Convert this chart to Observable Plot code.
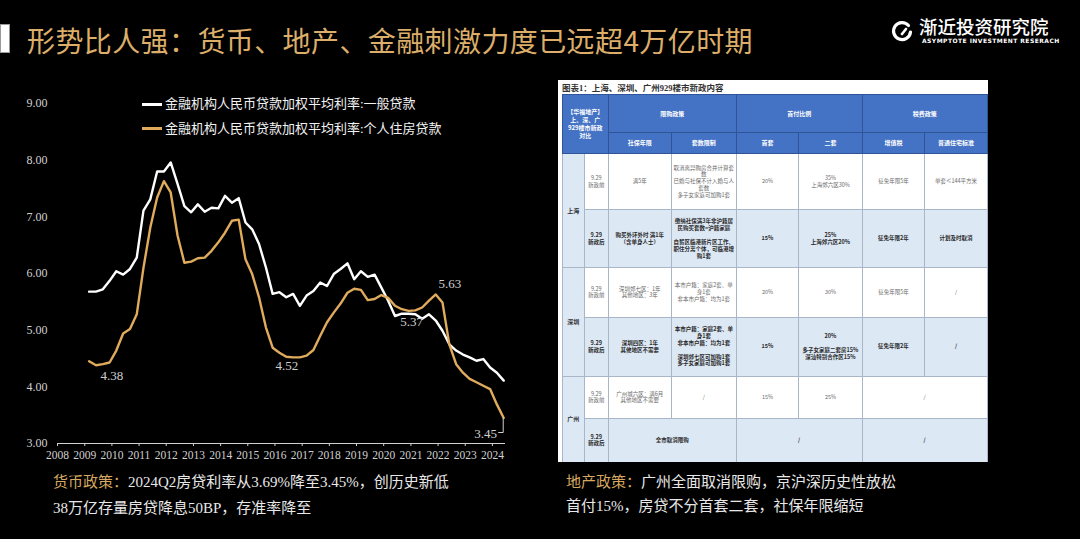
<!DOCTYPE html>
<html><head><meta charset="utf-8">
<script src="https://cdn.jsdelivr.net/npm/d3@7"></script>
<script src="https://cdn.jsdelivr.net/npm/@observablehq/plot@0.6"></script>
<style>
html,body{margin:0;padding:0;background:#000;}
#page{position:relative;width:1080px;height:539px;background:#000;overflow:hidden;font-family:"Noto Sans CJK SC",sans-serif;}
.titlebar{position:absolute;left:0;top:24px;width:10px;height:29px;background:#fff;border:1px solid #999;box-sizing:border-box}
.title{position:absolute;left:27px;top:22px;font-size:28px;line-height:36px;color:#dcae6a;letter-spacing:0.4px;white-space:nowrap}
.logo{position:absolute;left:889px;top:17px;}
.logoname{position:absolute;left:919px;top:17px;font-size:18.5px;line-height:19px;height:19px;color:#fff;font-weight:500;white-space:nowrap;letter-spacing:0px}
.logosub{position:absolute;left:922px;top:38px;font-size:6px;line-height:6px;height:6px;color:#fff;font-weight:700;white-space:nowrap;letter-spacing:0.45px;font-family:"DejaVu Sans",sans-serif}
#chart{position:absolute;left:0;top:80px;}
.legend{position:absolute;left:142px;font-size:13px;line-height:16px;color:#f2f2f2;white-space:nowrap;font-family:"Liberation Serif","Noto Sans CJK SC",serif}
.legend span.sw{display:inline-block;width:20px;height:3px;vertical-align:middle;margin-right:3px;position:relative;top:-1px}
.note{position:absolute;font-size:15px;color:#e8e8e8;white-space:nowrap;font-family:"Liberation Serif","Noto Sans CJK SC",serif}
.note b{color:#d6a860;font-weight:normal}
#tbl{position:absolute;left:558px;top:80px;width:430px;height:382px;background:#fff;overflow:hidden}
#tbl .tt{position:absolute;left:4px;top:2px;font-size:8.5px;line-height:12px;color:#333;font-weight:700;font-family:"Liberation Serif","Noto Sans CJK SC",serif;white-space:nowrap}
#tbl table{position:absolute;left:3.7px;top:14.3px;width:425px;border-collapse:collapse;table-layout:fixed;}
#tbl th{background:#4472c4;color:#fff;font-size:6px;line-height:1.35;font-weight:700;border:1px solid #2f5597;padding:0;text-align:center;vertical-align:middle}
#tbl td{font-size:5.5px;line-height:1.25;color:#6a6a6a;border:1px solid #a9b6c8;padding:0 1px;text-align:center;vertical-align:middle;background:#fff}
#tbl td.city{background:#dde8f5;color:#333;font-weight:700;font-size:6px}
#tbl tr.post td{background:#dde8f5;color:#2a2a2a;font-weight:700}
</style>
</head><body>
<div id="page">
  <div class="titlebar"></div>
  <div class="title">形势比人强：货币、地产、金融刺激力度已远超4万亿时期</div>
  <svg class="logo" width="26" height="28" viewBox="0 0 26 28">
    <path d="M19.5,8.5 A8.5,8.5 0 1 0 21.5,15" fill="none" stroke="#fff" stroke-width="3.2" stroke-linecap="round"/>
    <path d="M13,17 L17,12" fill="none" stroke="#fff" stroke-width="2.6" stroke-linecap="round"/>
  </svg>
  <div class="logoname">渐近投资研究院</div>
  <div class="logosub">ASYMPTOTE INVESTMENT RESERACH</div>

  <div id="chart"></div>
  <div class="legend" style="top:96px"><span class="sw" style="background:#ffffff"></span>金融机构人民币贷款加权平均利率:一般贷款</div>
  <div class="legend" style="top:120.5px"><span class="sw" style="background:#e0ab5c"></span>金融机构人民币贷款加权平均利率:个人住房贷款</div>

  <div class="note" style="left:53px;top:470px;line-height:25.5px"><b>货币政策：</b>2024Q2房贷利率从3.69%降至3.45%，创历史新低<br>38万亿存量房贷降息50BP，存准率降至</div>
  <div class="note" style="left:566px;top:469.5px;line-height:24.7px"><b>地产政策：</b>广州全面取消限购，京沪深历史性放松<br>首付15%，房贷不分首套二套，社保年限缩短</div>

  <div id="tbl">
    <div class="tt">图表1：上海、深圳、广州929楼市新政内容</div>
    <table>
      <colgroup><col style="width:22.3px"><col style="width:23.7px"><col style="width:63.3px"><col style="width:64.7px"><col style="width:62.6px"><col style="width:63.4px"><col style="width:62.6px"><col style="width:62.4px"></colgroup>
      <tr style="height:38px"><th colspan="2" rowspan="2">【华福地产】<br>上、深、广<br>929楼市新政<br>对比</th><th colspan="2">限购政策</th><th colspan="2">首付比例</th><th colspan="2">税费政策</th></tr>
      <tr style="height:21px"><th>社保年限</th><th>套数限制</th><th>首套</th><th>二套</th><th>增值税</th><th>普通住宅标准</th></tr>
      <tr style="height:56px"><td rowspan="2" class="city">上海</td><td>9.29<br>新政前</td><td>满5年</td><td>取消离异购房合并计算套<br>数<br>已婚与社保不计入婚与人<br>套数<br>多子女家庭可加购1套</td><td>20%</td><td>35%<br>上海郊六区30%</td><td>征免年限5年</td><td>单套≤144平方米</td></tr>
      <tr class="post" style="height:58px"><td>9.29<br>新政后</td><td>购买外环外时 满1年<br>（含单身人士）</td><td>缴纳社保满3年非沪籍居<br>民购买套数=沪籍家庭<br><br>自贸区临港新片区工作、<br>职住分离个体，可临港增<br>购1套</td><td>15%</td><td>25%<br>上海郊六区20%</td><td>征免年限2年</td><td>计划及时取消</td></tr>
      <tr style="height:49.4px"><td rowspan="2" class="city">深圳</td><td>9.29<br>新政前</td><td>深圳郊七区：1年<br>其他地区：3年</td><td>本市户籍：家庭2套、单<br>身1套<br>非本市户籍：均为1套</td><td>20%</td><td>30%</td><td>征免年限5年</td><td>/</td></tr>
      <tr class="post" style="height:59px"><td>9.29<br>新政后</td><td>深圳四区：1年<br>其他地区不需要</td><td>本市户籍：家庭2套、单<br>身1套<br>非本市户籍：均为1套<br><br>深圳郊七区可加购1套<br>多子女家庭可加购1套</td><td>15%</td><td>20%<br><br>多子女家庭二套房15%<br>深汕特别合作区15%</td><td>征免年限2年</td><td>/</td></tr>
      <tr style="height:42.6px"><td rowspan="2" class="city">广州</td><td>9.29<br>新政前</td><td>广州城六区：满6月<br>其他地区不需要</td><td>/</td><td>15%</td><td>25%</td><td colspan="2">/</td></tr>
      <tr class="post" style="height:43.4px"><td>9.29<br>新政后</td><td colspan="2">全市取消限购</td><td colspan="2">/</td><td colspan="2">/</td></tr>
    </table>
  </div>
</div>
<script>
// ---- data (quarterly) ----
const quarters = [
  "2009Q1","2009Q2","2009Q3","2009Q4","2010Q1","2010Q2","2010Q3","2010Q4",
  "2011Q1","2011Q2","2011Q3","2011Q4","2012Q1","2012Q2","2012Q3","2012Q4",
  "2013Q1","2013Q2","2013Q3","2013Q4","2014Q1","2014Q2","2014Q3","2014Q4",
  "2015Q1","2015Q2","2015Q3","2015Q4","2016Q1","2016Q2","2016Q3","2016Q4",
  "2017Q1","2017Q2","2017Q3","2017Q4","2018Q1","2018Q2","2018Q3","2018Q4",
  "2019Q1","2019Q2","2019Q3","2019Q4","2020Q1","2020Q2","2020Q3","2020Q4",
  "2021Q1","2021Q2","2021Q3","2021Q4","2022Q1","2022Q2","2022Q3","2022Q4",
  "2023Q1","2023Q2","2023Q3","2023Q4","2024Q1","2024Q2"
];
const generalLoan = [
  5.68,5.68,5.72,5.87, 6.04,5.98,6.08,6.28,
  7.11,7.31,7.80,7.80, 7.96,7.58,7.19,7.08,
  7.22,7.09,7.16,7.15, 7.37,7.25,7.33,6.90,
  6.78,6.52,6.11,5.64, 5.67,5.58,5.64,5.43,
  5.61,5.69,5.84,5.78, 5.99,6.08,6.18,5.90,
  6.04,5.94,5.98,5.75, 5.52,5.25,5.29,5.29,
  5.28,5.20,5.28,5.17, 4.99,4.75,4.64,4.57,
  4.52,4.46,4.49,4.34, 4.25,4.11
];
const mortgageRate = [
  4.45,4.38,4.40,4.43, 4.64,4.94,5.02,5.28,
  6.10,6.81,7.34,7.63, 7.43,6.67,6.19,6.21,
  6.27,6.28,6.40,6.55, 6.72,6.93,6.95,6.25,
  5.99,5.58,5.05,4.69, 4.60,4.53,4.52,4.52,
  4.55,4.65,4.90,5.14, 5.31,5.47,5.66,5.73,
  5.71,5.53,5.55,5.62, 5.57,5.43,5.37,5.34,
  5.35,5.40,5.52,5.63, 5.49,4.75,4.40,4.25,
  4.14,4.08,4.02,3.96, 3.69,3.45
];
const yTicks = [3, 4, 5, 6, 7, 8, 9];
const xTickYears = [2008,2009,2010,2011,2012,2013,2014,2015,2016,2017,2018,2019,2020,2021,2022,2023,2024];
const annQuarters = ["2009Q2", "2016Q4", "2020Q4", "2021Q4", "2024Q2"];
const annTexts = ["4.38", "4.52", "5.37", "5.63", "3.45"];

// ---- build ----
const toDate = q => new Date(Date.UTC(+q.slice(0, 4), (+q[5]) * 3 - 1, 1));
const rows = quarters.map((q, i) => ({date: toDate(q), general: generalLoan[i], mortgage: mortgageRate[i]}));
const annRows = annQuarters.map((q, i) => ({date: toDate(q), v: mortgageRate[quarters.indexOf(q)], text: annTexts[i]}));
const annOffsets = [[16, 10.5], [-13, 8], [3, 11], [14, -11], [-18, 16]];

const chart = Plot.plot({
  width: 520, height: 393,
  marginLeft: 57, marginRight: 15, marginTop: 23, marginBottom: 30,
  style: {background: "transparent", color: "#d2d2d2", fontFamily: '"Liberation Serif", serif', overflow: "visible"},
  x: {type: "utc", domain: [new Date(Date.UTC(2008, 0, 1)), new Date(Date.UTC(2024, 5, 25))]},
  y: {domain: [3, 9]},
  marks: [
    Plot.axisY(yTicks, {tickSize: 0, tickPadding: 10, tickFormat: d3.format(".2f"), fontSize: 12, color: "#d0d0d0", label: null}),
    Plot.axisX(xTickYears.map(y => new Date(Date.UTC(y, 0, 1))), {tickSize: 3, tickPadding: 4, tickFormat: d3.utcFormat("%Y"), fontSize: 11.5, color: "#d0d0d0", label: null}),
    Plot.ruleY([3], {stroke: "#d0d0d0", strokeWidth: 1}),
    Plot.line(rows, {x: "date", y: "general", stroke: "#ffffff", strokeWidth: 2.4}),
    Plot.line(rows, {x: "date", y: "mortgage", stroke: "#e0ab5c", strokeWidth: 2.4}),
    ...annRows.map((d, i) => Plot.text([d], {x: "date", y: "v", text: "text", dx: annOffsets[i][0], dy: annOffsets[i][1], fontSize: 13, fill: "#d0d0d0"})),
    Plot.dot(annRows.slice(-1), {x: "date", y: "v", r: 0, render: (index, scales, values, dims, ctx) => {
      const g = d3.create("svg:g");
      for (const i of index) {
        const px = values.x[i], py = values.y[i];
        g.append("path").attr("d", `M${px},${py}V${py + 15}H${px - 5}`).attr("fill", "none").attr("stroke", "#d0d0d0").attr("stroke-width", 1);
      }
      return g.node();
    }})
  ]
});
document.getElementById("chart").appendChild(chart);
</script>
</body></html>
